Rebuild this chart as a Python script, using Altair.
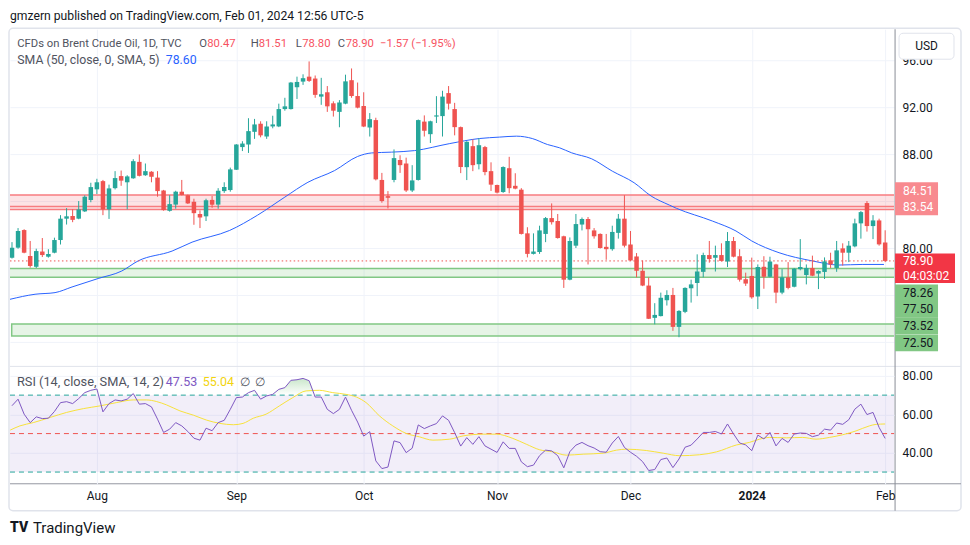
import altair as alt
import pandas as pd

# ---------------- data ----------------
opens = [79.18, 80.03, 81.53, 79.32, 78.40, 79.70, 79.26, 79.60, 80.68, 82.50,
         82.73, 82.50, 83.12, 84.09, 85.00, 85.70, 83.29, 85.10, 86.13, 85.60,
         85.94, 87.34, 86.20, 86.50, 86.00, 84.90, 83.17, 83.70, 84.80, 84.50,
         83.94, 82.90, 82.70, 84.10, 83.70, 84.85, 84.94, 86.67, 88.60, 88.82,
         89.90, 90.59, 89.50, 90.36, 90.36, 91.84, 91.84, 93.70, 94.18, 94.60,
         94.44, 92.90, 93.27, 92.33, 91.60, 92.30, 94.30, 92.95, 92.10, 90.27,
         90.90, 85.80, 84.42, 85.80, 87.50, 87.20, 84.90, 85.80, 90.77, 89.70,
         91.20, 91.24, 93.20, 91.84, 90.30, 86.89, 88.68, 87.14, 88.60, 86.55,
         85.37, 84.77, 86.80, 85.30, 84.97, 81.25, 79.50, 79.66, 81.20, 82.55,
         82.30, 81.00, 77.30, 80.20, 82.00, 82.47, 81.50, 81.20, 80.10, 79.90,
         81.29, 82.50, 80.30, 79.28, 78.06, 76.80, 74.05, 74.20, 75.55, 76.00,
         73.28, 74.56, 76.57, 77.02, 77.97, 79.40, 79.17, 79.40, 78.85, 80.60,
         79.30, 77.34, 77.62, 75.87, 78.40, 77.55, 78.60, 76.20, 77.50, 76.70,
         78.20, 77.70, 78.30, 77.82, 77.96, 78.95, 78.30, 79.97, 79.60, 80.14,
         82.10, 83.83, 81.87, 82.35, 80.47]
highs = [80.50, 81.70, 81.60, 80.60, 79.94, 80.85, 79.90, 80.88, 82.80, 83.40,
         83.30, 84.00, 84.49, 85.56, 85.90, 85.80, 85.40, 86.55, 86.60, 86.20,
         87.57, 87.97, 87.20, 86.55, 86.55, 84.95, 84.50, 84.88, 85.80, 84.55,
         84.20, 83.20, 84.20, 84.43, 85.10, 85.60, 86.85, 88.85, 89.10, 91.06,
         91.00, 90.80, 90.80, 91.27, 92.30, 92.80, 94.15, 94.60, 94.80, 95.90,
         94.70, 94.50, 93.80, 92.50, 92.60, 94.77, 95.30, 94.10, 93.27, 91.50,
         91.10, 86.40, 84.85, 88.40, 87.90, 87.70, 87.06, 90.95, 91.30, 90.85,
         92.94, 93.40, 93.80, 92.37, 90.35, 89.10, 89.27, 89.36, 88.70, 87.30,
         85.40, 86.96, 87.77, 86.37, 85.10, 81.77, 81.25, 81.90, 82.64, 83.80,
         82.90, 81.05, 80.90, 82.90, 82.60, 82.64, 81.70, 81.25, 81.20, 81.90,
         82.90, 84.50, 81.45, 79.57, 78.94, 77.50, 75.30, 76.20, 76.40, 76.60,
         74.70, 76.65, 77.30, 79.46, 79.60, 80.60, 80.20, 80.40, 81.36, 80.94,
         79.90, 77.90, 79.18, 78.60, 79.30, 79.26, 78.65, 78.20, 78.80, 78.30,
         80.76, 78.60, 79.35, 78.10, 79.20, 79.60, 80.60, 80.40, 80.60, 82.50,
         83.15, 84.00, 82.80, 82.50, 81.51]
lows = [79.10, 79.94, 79.55, 78.33, 78.30, 79.23, 79.18, 79.55, 80.30, 82.00,
        82.20, 82.45, 83.07, 83.90, 84.60, 82.80, 82.48, 84.99, 85.30, 83.30,
        85.90, 86.10, 86.15, 85.60, 84.37, 83.18, 83.10, 83.35, 84.48, 83.75,
        81.98, 81.70, 82.30, 83.43, 83.35, 84.70, 84.80, 86.65, 88.26, 88.10,
        89.30, 89.43, 89.30, 90.20, 90.30, 91.70, 91.80, 92.70, 93.90, 94.15,
        92.80, 92.20, 91.60, 91.20, 90.29, 92.25, 92.80, 91.90, 90.30, 89.50,
        85.76, 83.86, 83.37, 85.60, 86.40, 84.77, 84.77, 85.75, 89.50, 88.95,
        90.65, 89.50, 91.80, 89.60, 86.38, 85.79, 86.55, 86.70, 86.20, 84.86,
        84.65, 84.70, 84.66, 85.00, 81.15, 79.20, 79.45, 79.50, 80.50, 82.00,
        80.80, 76.60, 77.25, 80.00, 81.50, 78.60, 80.80, 79.95, 79.00, 79.77,
        80.80, 80.05, 78.90, 77.50, 76.75, 73.95, 73.50, 74.17, 75.10, 72.94,
        72.40, 74.45, 75.35, 75.90, 77.50, 78.75, 78.00, 78.85, 78.38, 79.20,
        77.14, 76.77, 75.68, 74.80, 76.53, 77.50, 75.30, 76.06, 76.48, 76.65,
        78.10, 76.90, 77.60, 76.50, 77.36, 78.30, 77.97, 78.50, 78.80, 80.06,
        80.80, 81.40, 80.76, 80.20, 78.80]
closes = [80.03, 81.45, 79.60, 78.47, 79.74, 79.40, 79.49, 80.68, 82.50, 82.70,
          82.40, 83.29, 84.37, 85.19, 85.60, 83.29, 85.08, 85.96, 85.74, 86.10,
          87.40, 86.15, 86.55, 86.07, 84.85, 83.23, 83.74, 84.80, 84.52, 83.80,
          82.97, 82.60, 84.07, 83.69, 84.88, 85.20, 86.70, 88.82, 88.90, 89.96,
          90.53, 89.60, 90.36, 90.53, 91.84, 92.07, 94.10, 94.15, 94.47, 94.24,
          93.05, 93.10, 92.07, 91.70, 92.40, 94.20, 92.95, 91.96, 90.35, 90.98,
          85.85, 84.00, 84.28, 87.66, 87.06, 84.90, 85.76, 90.90, 89.99, 90.80,
          91.30, 92.90, 92.30, 90.30, 86.90, 89.05, 87.06, 88.76, 86.47, 85.40,
          84.72, 86.90, 85.10, 85.06, 81.20, 79.50, 79.70, 81.50, 82.55, 82.20,
          80.85, 77.30, 80.60, 82.04, 82.47, 81.60, 81.00, 80.00, 79.90, 81.37,
          82.50, 80.20, 78.94, 78.06, 76.80, 73.97, 74.30, 75.76, 76.00, 73.28,
          74.64, 76.60, 76.90, 78.00, 79.40, 79.06, 79.40, 78.90, 80.60, 79.26,
          77.30, 76.97, 75.80, 78.38, 77.55, 78.85, 76.20, 77.50, 76.60, 78.24,
          78.38, 78.30, 77.64, 78.04, 78.86, 78.60, 79.80, 79.60, 80.20, 82.10,
          83.06, 81.87, 82.35, 80.31, 78.90]

# 50-day SMA, read at points along the drawn line (candle index, value)
sma_at = [-0.33, 3.8, 7.1, 9.9, 14.2, 18.1, 20.8, 26.4, 29.7, 35.9, 40.5, 45.0,
          48.8, 53.2, 57.0, 59.3, 62.6, 66.4, 72.2, 77.1, 80.4, 83.2, 85.8, 88.3,
          90.3, 92.3, 95.6, 99.0, 102.6, 105.4, 108.4, 109.6, 115.5, 119.4, 122.0,
          126.5, 132.0, 136.4, 140.2, 143.8]
sma_val = [75.63, 76.06, 76.20, 76.68, 77.40, 78.04, 78.90, 79.74, 80.50, 81.50,
           82.80, 84.34, 85.60, 86.60, 87.80, 88.10, 88.17, 88.30, 88.90, 89.33,
           89.45, 89.53, 89.33, 88.82, 88.54, 88.11, 87.60, 86.55, 85.56, 84.43,
           83.66, 83.38, 82.30, 81.45, 80.60, 79.60, 78.90, 78.55, 78.60, 78.60]

# RSI(14), one value per candle
rsi_val = [64.5, 67.9, 60.1, 55.7, 58.7, 57.8, 58.0, 61.5, 66.1, 66.6,
           65.6, 68.2, 71.3, 72.5, 73.2, 61.3, 65.6, 67.5, 67.0, 67.9,
           70.8, 65.3, 65.6, 63.9, 57.5, 50.6, 52.3, 55.7, 54.0, 51.1,
           47.6, 46.6, 52.8, 51.5, 55.7, 56.9, 62.6, 68.7, 69.0, 71.3,
           72.5, 67.9, 69.6, 70.4, 73.0, 73.9, 77.7, 78.0, 78.7, 77.5,
           69.0, 69.0, 62.6, 60.4, 62.6, 69.0, 62.1, 56.0, 48.7, 51.0,
           35.8, 31.8, 32.6, 46.2, 45.3, 40.1, 42.4, 54.5, 52.6, 54.0,
           55.2, 59.2, 56.9, 50.5, 43.5, 47.9, 44.4, 48.4, 43.6, 41.9,
           40.2, 45.7, 42.3, 42.3, 35.3, 32.8, 33.6, 38.5, 41.4, 41.0,
           38.5, 32.2, 40.6, 44.0, 45.4, 43.7, 42.5, 40.6, 40.3, 45.1,
           48.5, 42.8, 40.3, 38.2, 35.4, 30.8, 31.3, 36.5, 37.3, 32.3,
           36.8, 42.9, 44.0, 47.2, 50.6, 50.6, 51.1, 49.8, 55.0, 49.8,
           45.1, 44.1, 41.1, 49.2, 47.2, 50.6, 43.6, 47.5, 45.4, 49.8,
           50.3, 50.1, 48.4, 49.2, 52.3, 51.8, 55.5, 54.8, 57.2, 62.7,
           65.3, 59.9, 61.0, 53.2, 47.5]

# RSI-based moving average, read at points along the drawn line
rsima_at = [-0.3, 1.3, 3.5, 6.3, 9.0, 11.8, 14.5, 17.2, 20.0, 22.2, 23.8, 25.5,
            27.7, 29.9, 32.1, 34.3, 36.5, 38.1, 39.8, 41.9, 44.1, 46.3, 48.5,
            50.7, 52.9, 55.1, 56.8, 58.4, 60.6, 62.8, 65.0, 67.2, 69.4, 72.2,
            74.4, 77.7, 79.9, 82.6, 84.8, 87.0, 89.2, 91.4, 94.2, 97.5, 99.7,
            101.3, 104.6, 107.4, 110.1, 113.4, 116.2, 119.5, 121.6, 123.3, 124.9,
            127.7, 130.4, 132.6, 134.8, 137.0, 139.2, 141.4, 142.5, 144.0]
rsima_val = [51.8, 54.0, 55.7, 58.4, 61.0, 63.0, 64.4, 66.1, 67.5, 67.5, 66.7, 64.9,
             61.8, 59.6, 57.0, 55.3, 54.6, 55.3, 58.0, 60.1, 64.4, 68.7, 72.2,
             72.5, 71.3, 70.4, 69.0, 66.1, 59.2, 54.0, 50.1, 48.3, 46.6, 47.1,
             48.8, 49.7, 49.7, 47.5, 44.5, 41.6, 40.5, 38.8, 39.3, 39.8, 41.4,
             41.9, 41.2, 39.8, 38.5, 39.0, 40.5, 44.1, 45.4, 47.1, 48.0,
             47.8, 48.0, 47.1, 48.0, 49.4, 51.4, 54.0, 54.8, 55.0]

month_at = [14, 37, 58, 80, 102, 122, 144]
month_lbl = ["Aug", "Sep", "Oct", "Nov", "Dec", "2024", "Feb"]
price_ticks = [72, 76, 80, 84, 88, 92, 96]
price_shown = [80, 88, 92, 96]
rsi_ticks = [40, 60, 80]
rsi_levels = [70, 50, 30]
rsi_band = [70, 30]

zone_top = [84.51, 78.26, 73.52]
zone_bot = [83.29, 77.50, 72.50]
zone_from = [-3, -3, -0.05]
zone_kind = ["resistance", "support", "support"]
zone_mid = [83.54]
tag_vals = [84.51, 83.54, 78.26, 77.50, 73.52, 72.50]
countdown = "04:03:02"

# ---------------- layout / style ----------------
W, H1, H2 = 885, 338, 117
FONT = "Roboto"
GRID = "#f0f3fa"
TXT = "#131722"
GREY = "#50535e"
UP, DN = "#26a69a", "#ef5350"
LEG_RED = "#f7525f"

xs = alt.Scale(domain=[-0.33, 145.47], nice=False, zero=False, padding=0)
ps = alt.Scale(domain=[69.87, 98.64], nice=False, zero=False, padding=0)
rs = alt.Scale(domain=[23.9, 84.68], nice=False, zero=False, padding=0)

ax_x_main = alt.Axis(values=month_at, grid=True, gridColor=GRID, labels=False,
                     ticks=False, domain=False, title=None)
lbl_expr = " : ".join(f"datum.value == {v} ? '{l}'" for v, l in zip(month_at, month_lbl)) + " : ''"
bold_at = month_at[month_lbl.index("2024")]
ax_x_rsi = alt.Axis(values=month_at, grid=True, gridColor=GRID, labelExpr=lbl_expr,
                    ticks=False, domain=False, title=None, labelPadding=7,
                    labelFontSize=12, labelFont=FONT, labelColor=TXT,
                    labelFlush=False, labelOverlap=False,
                    labelFontWeight={"condition": {"test": f"datum.value == {bold_at}", "value": "bold"},
                                     "value": "normal"})
shown = ",".join(str(v) for v in price_shown)
ax_y_main = alt.Axis(orient="right", values=price_ticks,
                     labelExpr=f"indexof([{shown}], datum.value) >= 0 ? format(datum.value, '.2f') : ''",
                     grid=True, gridColor=GRID, ticks=False, domain=False, title=None,
                     labelPadding=8, labelFontSize=12, labelFont=FONT, labelColor=TXT)
ax_y_rsi = alt.Axis(orient="right", values=rsi_ticks, format=".2f", grid=True, gridColor=GRID,
                    ticks=False, domain=False, title=None, labelPadding=8,
                    labelFontSize=12, labelFont=FONT, labelColor=TXT)


def XM(f):
    return alt.X(f, type="quantitative", scale=xs, axis=ax_x_main)


def YM(f):
    return alt.Y(f, type="quantitative", scale=ps, axis=ax_y_main)


def XR(f):
    return alt.X(f, type="quantitative", scale=xs, axis=ax_x_rsi)


def YR(f):
    return alt.Y(f, type="quantitative", scale=rs, axis=ax_y_rsi)


one = pd.DataFrame({"k": [0]})


def label(s, x, y, color, size=12.5, weight="normal", align="left"):
    return alt.Chart(one).mark_text(text=s, align=align, baseline="middle", fontSize=size,
                                    fontWeight=weight, font=FONT, color=color).encode(
        x=alt.value(x), y=alt.value(y))


def hline(x1, x2, y, color, w=1):
    return alt.Chart(one).mark_rule(color=color, strokeWidth=w).encode(
        x=alt.value(x1), x2=alt.value(x2), y=alt.value(y))


def vline(x, y1, y2, color, w=1):
    return alt.Chart(one).mark_rule(color=color, strokeWidth=w).encode(
        x=alt.value(x), y=alt.value(y1), y2=alt.value(y2))


# ---------------- main pane ----------------
zdf = pd.DataFrame({"top": zone_top, "bot": zone_bot, "x0": zone_from,
                    "x1": [150] * len(zone_top), "kind": zone_kind})
zones = alt.Chart(zdf).mark_rect(clip=True, strokeWidth=1.5, fillOpacity=0.14).encode(
    x=XM("x0"), x2="x1", y=YM("top"), y2="bot",
    fill=alt.Fill("kind:N", scale=alt.Scale(domain=["resistance", "support"],
                                           range=["#f23645", "#4caf50"]), legend=None),
    stroke=alt.Stroke("kind:N", scale=alt.Scale(domain=["resistance", "support"],
                                               range=["#f77c80", "#81c784"]), legend=None))
zmid = alt.Chart(pd.DataFrame({"p": zone_mid})).mark_rule(color="#f77c80", strokeWidth=1.5).encode(
    y=YM("p"), x=alt.value(0), x2=alt.value(W))

sma = alt.Chart(pd.DataFrame({"t": sma_at, "v": sma_val})).mark_line(
    color="#2962ff", strokeWidth=1, interpolate="monotone", clip=True).encode(x=XM("t"), y=YM("v"))

lastp = alt.Chart(pd.DataFrame({"p": [closes[-1]]})).mark_rule(
    color=DN, strokeWidth=1, strokeDash=[1.5, 2.5]).encode(y=YM("p"), x=alt.value(0), x2=alt.value(W))

cd = pd.DataFrame({"i": list(range(len(closes))), "o": opens, "h": highs, "l": lows, "c": closes})
cd["dir"] = ["up" if c >= o else "down" for o, c in zip(opens, closes)]
ccol = alt.Color("dir:N", scale=alt.Scale(domain=["up", "down"], range=[UP, DN]), legend=None)
wicks = alt.Chart(cd).mark_rule(strokeWidth=1).encode(x=XM("i"), y=YM("l"), y2="h", color=ccol)
bodies = alt.Chart(cd).mark_bar(width=4.5).encode(x=XM("i"), y=YM("o"), y2="c", color=ccol)

# price tags on the price scale (shifted like the original to avoid overlapping)
PINK, LGREEN = "#f88a8f", "#81c784"
tag_style = {84.51: (PINK, "white", -4.5), 83.54: (PINK, "white", 0.5),
             78.26: (LGREEN, TXT, 24.6), 77.50: (LGREEN, TXT, 32.1),
             73.52: (LGREEN, TXT, 1.9), 72.50: (LGREEN, TXT, 6.9)}
TAG_H = 16.8
tag_layers = []
for v in tag_vals:
    fill, tcol, off = tag_style[v]
    tdf = pd.DataFrame({"p": [v]})
    tag_layers.append(alt.Chart(tdf).mark_rect(color=fill, yOffset=off - TAG_H / 2,
                                               y2Offset=off + TAG_H / 2).encode(
        y=YM("p"), y2="p", x=alt.value(W + 1), x2=alt.value(W + 44)))
    tag_layers.append(alt.Chart(tdf).mark_text(align="left", baseline="middle", fontSize=12,
                                               font=FONT, color=tcol, yOffset=off).encode(
        y=YM("p"), x=alt.value(W + 9), text=alt.Text("p:Q", format=".2f")))
ldf = pd.DataFrame({"p": [closes[-1]]})
tag_layers.append(alt.Chart(ldf).mark_rect(color="#f23645", yOffset=-7.4, y2Offset=22.2).encode(
    y=YM("p"), y2="p", x=alt.value(W + 1), x2=alt.value(W + 61)))
tag_layers.append(alt.Chart(ldf).mark_text(align="left", baseline="middle", fontSize=12, font=FONT,
                                           color="white").encode(
    y=YM("p"), x=alt.value(W + 9), text=alt.Text("p:Q", format=".2f")))
tag_layers.append(alt.Chart(ldf).mark_text(align="left", baseline="middle", fontSize=12, font=FONT,
                                           color="white", yOffset=15, text=countdown).encode(
    y=YM("p"), x=alt.value(W + 9)))

frame = alt.Chart(one).mark_rect(fill="transparent", stroke="#e0e3eb", strokeWidth=1.5,
                                 cornerRadius=4).encode(
    x=alt.value(-1), x2=alt.value(952), y=alt.value(-1), y2=alt.value(482))
usd_box = alt.Chart(one).mark_rect(fill="white", stroke="#e0e3eb", strokeWidth=1,
                                   cornerRadius=4).encode(
    x=alt.value(890), x2=alt.value(945), y=alt.value(4), y2=alt.value(30))

deco = [
    frame,
    hline(0, 952, H1 - 0.5, "#e0e3eb", 1),
    hline(0, 952, H1 + H2, "#9598a1", 1),
    vline(W + 1, 0, 482, "#8a8d96", 1),
]
LS = 11.3
texts = [
    usd_box,
    label("USD", 917.5, 17, TXT, 12, align="center"),
    label("gmzern published on TradingView.com, Feb 01, 2024 12:56 UTC-5", 0, -13, TXT, 12.2),
    label("CFDs on Brent Crude Oil, 1D, TVC", 7.3, 14.7, GREY, LS),
    label("O", 189.5, 14.7, GREY, LS), label("80.47", 197.5, 14.7, LEG_RED, LS),
    label("H", 241, 14.7, GREY, LS), label("81.51", 249, 14.7, LEG_RED, LS),
    label("L", 286, 14.7, GREY, LS), label("78.80", 292.5, 14.7, LEG_RED, LS),
    label("C", 328, 14.7, GREY, LS), label("78.90", 336, 14.7, LEG_RED, LS),
    label("\u22121.57 (\u22121.95%)", 370.5, 14.7, LEG_RED, LS),
    label("SMA (50, close, 0, SMA, 5)", 7.3, 31, GREY, 12.3),
    label("78.60", 156, 31, "#2962ff", 12.3),
    label("TV", 0, 499, TXT, 14, weight=900),
    label("TradingView", 23, 499, TXT, 15),
]

main = alt.layer(zones, zmid, sma, lastp, wicks, bodies, *deco, *tag_layers, *texts).properties(
    width=W, height=H1)

# ---------------- RSI pane ----------------
band = alt.Chart(pd.DataFrame({"a": [rsi_band[0]], "b": [rsi_band[1]]})).mark_rect(
    color="#7e57c2", opacity=0.1).encode(x=alt.value(0), x2=alt.value(W), y=YR("a"), y2="b")
lv = pd.DataFrame({"lv": rsi_levels, "kind": ["edge", "mid", "edge"]})
levels = alt.Chart(lv).mark_rule(strokeWidth=1, strokeDash=[5, 4]).encode(
    y=YR("lv"), x=alt.value(0), x2=alt.value(W),
    color=alt.Color("kind:N", scale=alt.Scale(domain=["edge", "mid"], range=["#787b86", "#b2b5be"]),
                    legend=None))
rdf = pd.DataFrame({"i": list(range(len(rsi_val))), "r": rsi_val})
ob = alt.Chart(rdf).transform_calculate(top=f"max(datum.r, {rsi_band[0]})",
                                        base=f"{rsi_band[0]}").mark_area(
    clip=True,
    color=alt.Gradient(gradient="linear",
                       stops=[alt.GradientStop(color="rgba(76,175,80,0.3)", offset=0),
                              alt.GradientStop(color="rgba(76,175,80,0.0)", offset=1)],
                       x1=0, x2=0, y1=0, y2=1)).encode(x=XR("i"), y=YR("top:Q"), y2="base:Q")
rsima = alt.Chart(pd.DataFrame({"t": rsima_at, "v": rsima_val})).mark_line(
    color="#f7e13b", strokeWidth=1, interpolate="monotone", clip=True).encode(x=XR("t"), y=YR("v"))
rsiline = alt.Chart(rdf).mark_line(color="#7e57c2", strokeWidth=1, clip=True).encode(
    x=XR("i"), y=YR("r"))
rsi_txt = [
    label("RSI (14, close, SMA, 14, 2)", 7, 14.7, GREY, 12.8),
    label("47.53", 156, 14.7, "#7e57c2", 12.5),
    label("55.04", 193, 14.7, "#f2d40f", 12.5),
    label("\u2205", 230, 14.7, GREY, 12.5),
    label("\u2205", 245, 14.7, GREY, 12.5),
]
rsi = alt.layer(band, levels, ob, rsima, rsiline, *rsi_txt).properties(width=W, height=H2)

chart = alt.vconcat(main, rsi, spacing=0, bounds="flush").properties(
    padding={"top": 2, "left": 0, "right": 0, "bottom": 0},
    background="white").configure_view(stroke=None)

chart.save("out.html", embed_options={"renderer": "svg", "actions": False})
